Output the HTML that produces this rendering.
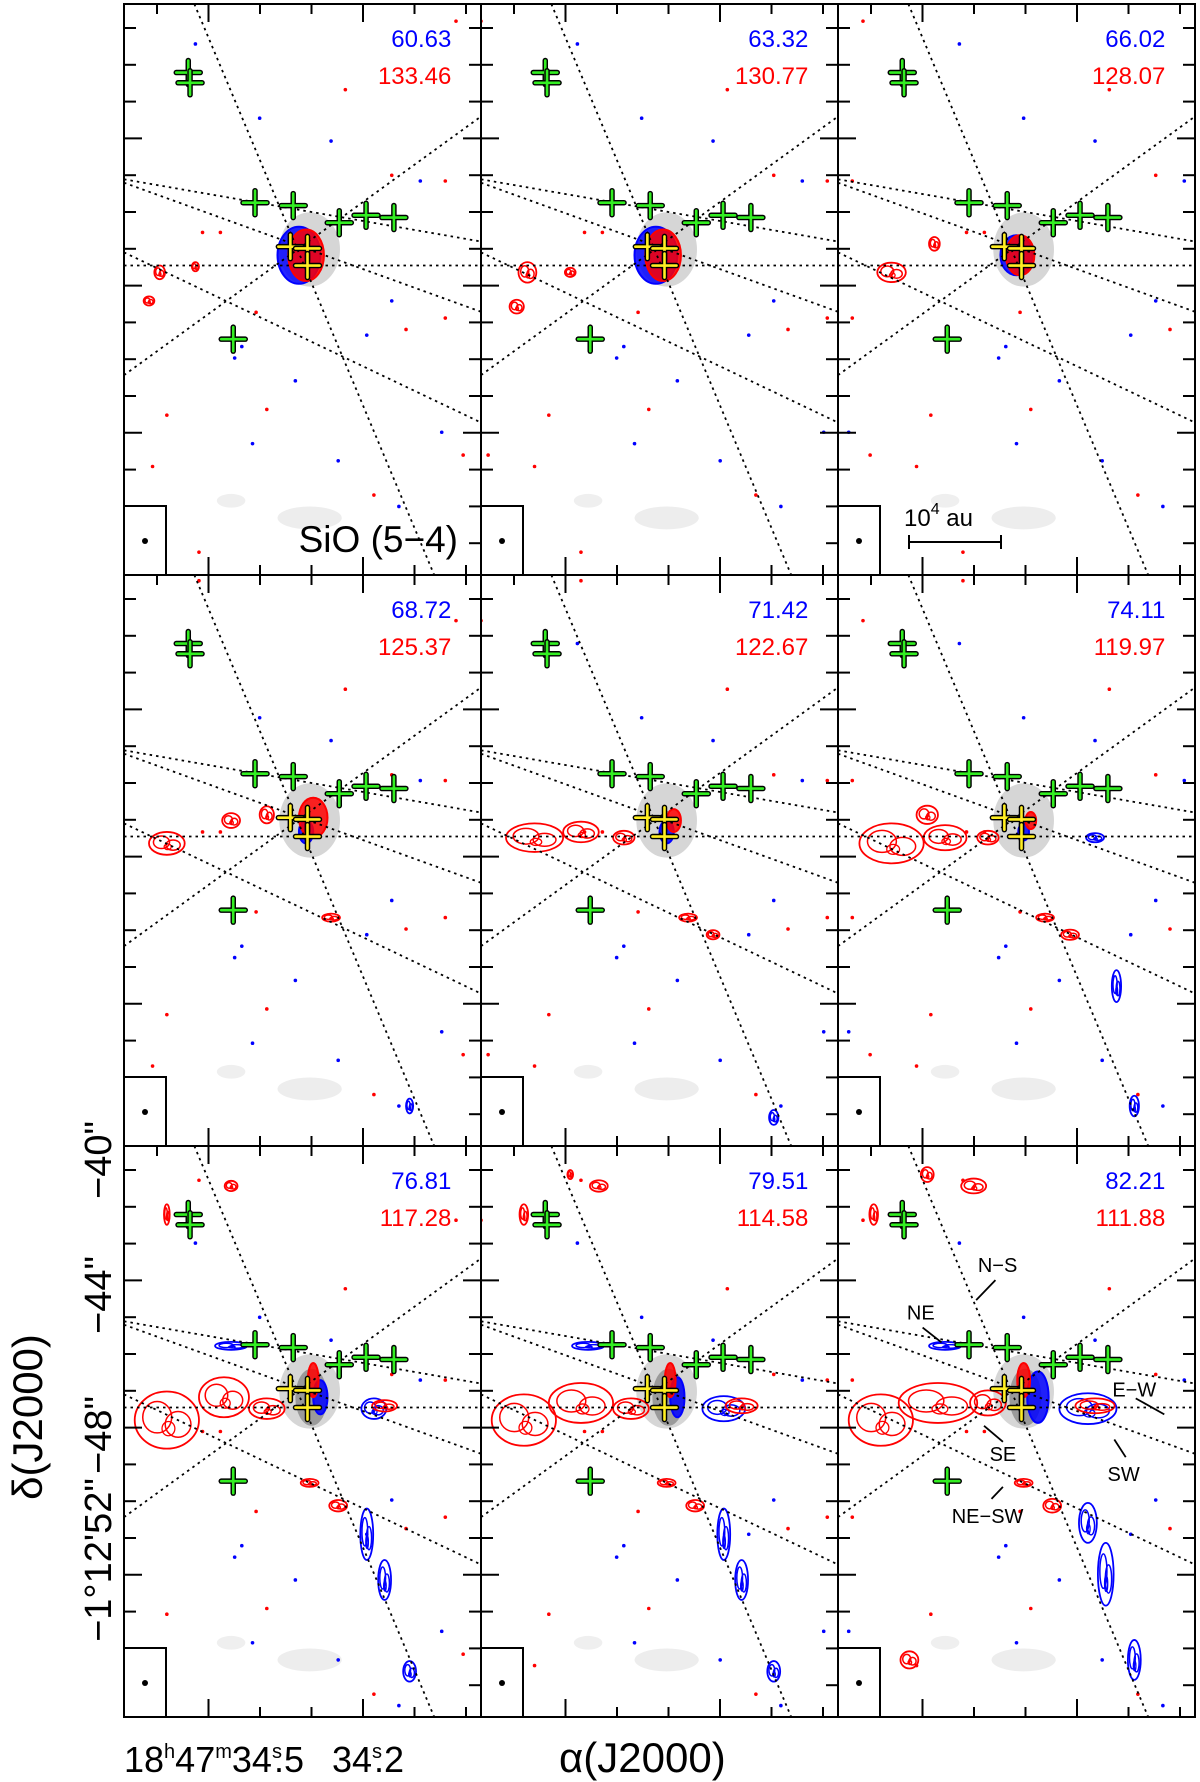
<!DOCTYPE html>
<html><head><meta charset="utf-8"><style>
html,body{margin:0;padding:0;background:#fff;}
svg{display:block;}
text{font-family:"Liberation Sans",sans-serif;}
</style></head><body>
<svg id="fig" width="1200" height="1782" viewBox="0 0 1200 1782" xmlns="http://www.w3.org/2000/svg">
<g id="layer-gray"></g>
<g id="layer-contours"></g>
<g id="layer-lines"></g>
<g id="layer-marks"></g>
<g id="layer-frames"></g>
<g id="layer-text"></g>
</svg>
<script>
// ---- data ----
const blueVel = ["60.63","63.32","66.02","68.72","71.42","74.11","76.81","79.51","82.21"];
const redVel  = ["133.46","130.77","128.07","125.37","122.67","119.97","117.28","114.58","111.88"];
const yTickLabels = ["\u221240\"","\u221244\"","\u221248\"","\u22121\u00b012'52\""];
const axisLines = [
 [0.197,0,0.869,1],
 [0,0.458,1,0.458],
 [0,0.307,1,0.416],
 [0,0.313,1,0.539],
 [0,0.435,1,0.733],
 [0,0.65,1,0.197]
];
const greenSources = [[0.367,0.348],[0.474,0.353],[0.603,0.383],[0.678,0.37],[0.756,0.374],[0.306,0.587]];
const yellowSources = [[0.466,0.425],[0.514,0.428],[0.514,0.458]];
const redBlobs = [
 [0,0.51,0.44,0.05,0.045,1],[1,0.51,0.44,0.05,0.045,1],[2,0.51,0.44,0.04,0.035,1],[3,0.53,0.425,0.04,0.035,1],
 [4,0.54,0.43,0.02,0.02,1],[5,0.54,0.43,0.015,0.015,1],[6,0.53,0.41,0.015,0.03,1],[7,0.53,0.41,0.015,0.03,1],[8,0.52,0.41,0.018,0.03,1],
 [0,0.1,0.47,0.015,0.012,0],[0,0.07,0.52,0.015,0.008,0],[0,0.2,0.46,0.01,0.008,0],
 [1,0.13,0.47,0.025,0.018,0],[1,0.1,0.53,0.02,0.012,0],[1,0.25,0.47,0.015,0.008,0],
 [2,0.15,0.47,0.04,0.017,0],[2,0.27,0.42,0.015,0.012,0],
 [3,0.12,0.47,0.05,0.02,0],[3,0.3,0.43,0.025,0.013,0],[3,0.4,0.42,0.02,0.015,0],
 [4,0.15,0.46,0.08,0.025,0],[4,0.28,0.45,0.05,0.018,0],[4,0.4,0.46,0.03,0.012,0],
 [5,0.15,0.47,0.09,0.035,0],[5,0.3,0.46,0.06,0.022,0],[5,0.25,0.42,0.03,0.016,0],[5,0.42,0.46,0.03,0.012,0],
 [6,0.12,0.48,0.09,0.05,0],[6,0.28,0.44,0.07,0.035,0],[6,0.4,0.46,0.05,0.018,0],[6,0.73,0.455,0.035,0.01,0],
 [7,0.12,0.48,0.09,0.045,0],[7,0.28,0.45,0.09,0.035,0],[7,0.42,0.46,0.05,0.018,0],[7,0.73,0.455,0.045,0.013,0],
 [8,0.12,0.48,0.09,0.045,0],[8,0.28,0.45,0.11,0.035,0],[8,0.42,0.45,0.05,0.022,0],[8,0.72,0.455,0.055,0.013,0],
 [3,0.58,0.6,0.025,0.007,0],[4,0.58,0.6,0.025,0.007,0],[4,0.65,0.63,0.018,0.008,0],[5,0.58,0.6,0.025,0.007,0],[5,0.65,0.63,0.025,0.009,0],
 [6,0.52,0.59,0.025,0.007,0],[6,0.6,0.63,0.025,0.01,0],[7,0.52,0.59,0.025,0.007,0],[7,0.6,0.63,0.025,0.01,0],[8,0.52,0.59,0.025,0.007,0],[8,0.6,0.63,0.025,0.012,0],
 [6,0.3,0.07,0.018,0.009,0],[6,0.12,0.12,0.008,0.018,0],[7,0.33,0.07,0.025,0.01,0],[7,0.12,0.12,0.012,0.018,0],[7,0.25,0.05,0.008,0.008,0],
 [8,0.38,0.07,0.035,0.013,0],[8,0.25,0.05,0.018,0.013,0],[8,0.1,0.12,0.012,0.018,0],[8,0.2,0.9,0.025,0.015,0]
];
const blueBlobs = [
 [0,0.49,0.44,0.06,0.05,1],[1,0.49,0.44,0.06,0.05,1],[2,0.5,0.44,0.045,0.035,1],[3,0.51,0.45,0.02,0.02,1],
 [4,0.52,0.45,0.02,0.02,1],[5,0.52,0.45,0.015,0.015,1],[6,0.55,0.44,0.02,0.03,1],[7,0.55,0.44,0.02,0.035,1],[8,0.56,0.44,0.03,0.045,1],
 [5,0.72,0.46,0.025,0.008,0],[6,0.7,0.46,0.035,0.018,0],[7,0.68,0.46,0.06,0.022,0],[8,0.7,0.46,0.08,0.027,0],
 [6,0.3,0.35,0.045,0.007,0],[7,0.3,0.35,0.045,0.007,0],[8,0.3,0.35,0.045,0.007,0],
 [3,0.8,0.93,0.01,0.013,0],[4,0.82,0.95,0.013,0.013,0],[5,0.78,0.72,0.013,0.028,0],[5,0.83,0.93,0.013,0.018,0],
 [6,0.68,0.68,0.018,0.045,0],[6,0.73,0.76,0.018,0.035,0],[6,0.8,0.92,0.018,0.018,0],
 [7,0.68,0.68,0.018,0.045,0],[7,0.73,0.76,0.018,0.035,0],[7,0.82,0.92,0.018,0.018,0],
 [8,0.7,0.66,0.025,0.035,0],[8,0.75,0.75,0.022,0.055,0],[8,0.83,0.9,0.018,0.035,0]
];
const grayBlobs = [
 [0.52,0.43,0.085,0.065,"#d6d6d6"],[0.52,0.9,0.09,0.02,"#ededed"],[0.3,0.87,0.04,0.012,"#efefef"]
];
const darkGrayPanels = [6,7,8];
// speckle dots [u,v,color]
const speckles = [
 [0.2,0.07,"b"],[0.93,0.03,"r"],[0.62,0.15,"r"],[0.38,0.2,"b"],[0.58,0.24,"b"],[0.75,0.3,"r"],[0.83,0.31,"b"],
 [0.22,0.4,"r"],[0.27,0.4,"r"],[0.9,0.31,"r"],[0.75,0.52,"b"],[0.37,0.54,"r"],[0.79,0.57,"r"],[0.68,0.58,"b"],
 [0.33,0.6,"b"],[0.31,0.62,"b"],[0.48,0.66,"b"],[0.12,0.72,"r"],[0.36,0.77,"b"],[0.89,0.75,"b"],[0.08,0.81,"r"],
 [0.95,0.79,"r"],[0.7,0.86,"r"],[0.77,0.88,"b"],[0.21,0.96,"r"],[0.4,0.71,"r"],[0.6,0.8,"b"],[0.9,0.55,"r"]
];
const panelNotes = [
 ["N\u2212S",0.447,0.207,0.441,0.235,0.387,0.27],
 ["NE",0.232,0.29,0.237,0.318,0.29,0.344],
 ["E\u2212W",0.83,0.425,0.834,0.442,0.914,0.47],
 ["SE",0.462,0.538,0.409,0.49,0.462,0.518],
 ["SW",0.8,0.573,0.774,0.514,0.806,0.545],
 ["NE\u2212SW",0.419,0.646,0.43,0.618,0.462,0.597]
];
// ---- layout ----
const NS="http://www.w3.org/2000/svg";
const X0=124,Y0=4,PW=357,PH=571;
function px(p,u){return X0+(p%3)*PW+u*PW;}
function py(p,v){return Y0+Math.floor(p/3)*PH+v*PH;}
function mk(tag,attrs,parent){const e=document.createElementNS(NS,tag);for(const k in attrs)e.setAttribute(k,attrs[k]);parent.appendChild(e);return e;}
const Lg=document.getElementById('layer-gray'),Lc=document.getElementById('layer-contours'),Ll=document.getElementById('layer-lines'),Lm=document.getElementById('layer-marks'),Lf=document.getElementById('layer-frames'),Lt=document.getElementById('layer-text');
for(let p=0;p<9;p++){
 const cp=mk('clipPath',{id:'cp'+p},Lg);
 mk('rect',{x:px(p,0),y:py(p,0),width:PW,height:PH},cp);
 const gg=mk('g',{'clip-path':'url(#cp'+p+')'},Lg);
 
 
 grayBlobs.forEach(b=>{const e=mk('ellipse',{cx:px(p,b[0]),cy:py(p,b[1]),rx:b[2]*PW,ry:b[3]*PH,fill:b[4]},gg);
  });
 if(darkGrayPanels.includes(p)){const e=mk('ellipse',{cx:px(p,0.525),cy:py(p,0.44),rx:0.045*PW,ry:0.05*PH,fill:"#9a9a9a"},gg);
  }
 speckles.forEach((s,i)=>{const d=mk('circle',{cx:px(p,(s[0]+0.07*(p%3))%1),cy:py(p,(s[1]+0.05*Math.floor(p/3))%1),r:1.8,fill:s[2]==='b'?'#0000ff':'#ff0000'},gg);
  });
 const gl=mk('g',{'clip-path':'url(#cp'+p+')'},Ll);
 axisLines.forEach(a=>{const e=mk('line',{x1:px(p,a[0]),y1:py(p,a[1]),x2:px(p,a[2]),y2:py(p,a[3]),stroke:'#000','stroke-width':1.8,'stroke-dasharray':'2.5,4'},gl);
  });
}
function blob(b,color){
 const p=b[0];const gc=mk('g',{'clip-path':'url(#cp'+p+')'},Lc);
 
 
 const cx=px(p,b[1]),cy=py(p,b[2]),rx=b[3]*PW,ry=b[4]*PH;
 if(b[5]){mk('ellipse',{cx:cx,cy:cy,rx:rx,ry:ry,fill:color,'fill-opacity':0.85,stroke:color,'stroke-width':2},gc);}
 else{
  mk('ellipse',{cx:cx,cy:cy,rx:rx,ry:ry,fill:'none',stroke:color,'stroke-width':1.8},gc);
  mk('ellipse',{cx:cx-rx*0.3,cy:cy-ry*0.1,rx:rx*0.45,ry:ry*0.55,fill:'none',stroke:color,'stroke-width':1.5},gc);
  mk('ellipse',{cx:cx+rx*0.35,cy:cy+ry*0.15,rx:rx*0.4,ry:ry*0.45,fill:'none',stroke:color,'stroke-width':1.5},gc);
  mk('ellipse',{cx:cx+rx*0.05,cy:cy+ry*0.3,rx:rx*0.2,ry:ry*0.25,fill:'none',stroke:color,'stroke-width':1.3},gc);
 }
}
blueBlobs.forEach(b=>blob(b,'#0000ff'));
redBlobs.forEach(b=>blob(b,'#ff0000'));
function cross(x,y,col,parent,name){
 const g=mk('g',{},parent);
 
 
 const h=12;
 [['#000',5.5],[col,2.6]].forEach(s=>{
  mk('line',{x1:x-h,y1:y,x2:x+h,y2:y,stroke:s[0],'stroke-width':s[1],'stroke-linecap':'round'},g);
  mk('line',{x1:x,y1:y-h,x2:x,y2:y+h,stroke:s[0],'stroke-width':s[1],'stroke-linecap':'round'},g);
 });
}
for(let p=0;p<9;p++){
 greenSources.forEach(s=>cross(px(p,s[0]),py(p,s[1]),'#33ee22',Lm,'green-source-marker'));
 cross(px(p,0.18),py(p,0.12),'#33ee22',Lm,'green-source-marker');
 cross(px(p,0.185),py(p,0.138),'#33ee22',Lm,'green-source-marker');
 yellowSources.forEach(s=>cross(px(p,s[0]),py(p,s[1]),'#ffee22',Lm,'yellow-source-marker'));
 const f=mk('rect',{x:px(p,0),y:py(p,0),width:PW,height:PH,fill:'none',stroke:'#000','stroke-width':2},Lf);
 
 for(let k=0;k<15;k++){const y=py(p,0)+24+k*36.8;if(y>py(p,1))break;const L=(k%4===3)?18:12;
  mk('line',{x1:px(p,0),y1:y,x2:px(p,0)+L,y2:y,stroke:'#000','stroke-width':2},Lf);
  mk('line',{x1:px(p,1),y1:y,x2:px(p,1)-L,y2:y,stroke:'#000','stroke-width':2},Lf);}
 for(let k=0;k<7;k++){const x=px(p,0)+33+k*51.5;const L=(k%3===1)?18:10;
  mk('line',{x1:x,y1:py(p,0),x2:x,y2:py(p,0)+L,stroke:'#000','stroke-width':2},Lf);
  mk('line',{x1:x,y1:py(p,1),x2:x,y2:py(p,1)-L,stroke:'#000','stroke-width':2},Lf);}
 const bb=mk('rect',{x:px(p,0),y:py(p,1)-69,width:42,height:69,fill:'#fff',stroke:'#000','stroke-width':2},Lf);
 
 mk('circle',{cx:px(p,0)+21,cy:py(p,1)-34,r:3,fill:'#000'},Lf);
 const tb=mk('text',{x:px(p,0.917),y:py(p,0)+43,'text-anchor':'end','font-size':24,fill:'#0000ff'},Lt);
 tb.textContent=blueVel[p];
 const tr=mk('text',{x:px(p,0.917),y:py(p,0)+80,'text-anchor':'end','font-size':24,fill:'#ff0000'},Lt);
 tr.textContent=redVel[p];
}
panelNotes.forEach(n=>{
 const t=mk('text',{x:px(8,n[1]),y:py(8,n[2])+8,'text-anchor':'middle','font-size':20,fill:'#000'},Lt);
 t.textContent=n[0];
 mk('line',{x1:px(8,n[3]),y1:py(8,n[4]),x2:px(8,n[5]),y2:py(8,n[6]),stroke:'#000','stroke-width':1.8},Lt);
});
const yLabY=[1160,1295,1435,1560];
yTickLabels.forEach((s,i)=>{
 const t=mk('text',{x:0,y:0,'text-anchor':'middle','font-size':38,fill:'#000',transform:'translate(111,'+yLabY[i]+') rotate(-90)'},Lt);
 t.textContent=s;
});
</script>
<svg style="position:absolute;left:0;top:0" width="1200" height="1782">
<text x="458" y="552" text-anchor="end" font-family="Liberation Sans, sans-serif" font-size="37" fill="#000">SiO (5−4)</text>
<text x="904" y="526" font-family="Liberation Sans, sans-serif" font-size="24" fill="#000">10<tspan dy="-12" font-size="16">4</tspan><tspan dy="12"> au</tspan></text>
<g stroke="#000" stroke-width="2"><line x1="909" y1="542" x2="1001" y2="542"/><line x1="909" y1="535" x2="909" y2="549"/><line x1="1001" y1="535" x2="1001" y2="549"/></g>
<text transform="translate(42,1417) rotate(-90)" text-anchor="middle" font-family="Liberation Sans, sans-serif" font-size="42" fill="#000">δ(J2000)</text>
<text x="124" y="1772" font-family="Liberation Sans, sans-serif" font-size="36" fill="#000">18<tspan dy="-14" font-size="20">h</tspan><tspan dy="14">47</tspan><tspan dy="-14" font-size="20">m</tspan><tspan dy="14">34</tspan><tspan dy="-14" font-size="20">s</tspan><tspan dx="-8" dy="14">.5</tspan></text>
<text x="332" y="1772" font-family="Liberation Sans, sans-serif" font-size="36" fill="#000">34<tspan dy="-14" font-size="20">s</tspan><tspan dx="-8" dy="14">.2</tspan></text>
<text x="559" y="1772" font-family="Liberation Sans, sans-serif" font-size="42" fill="#000">α(J2000)</text>
</svg>
</body></html>
